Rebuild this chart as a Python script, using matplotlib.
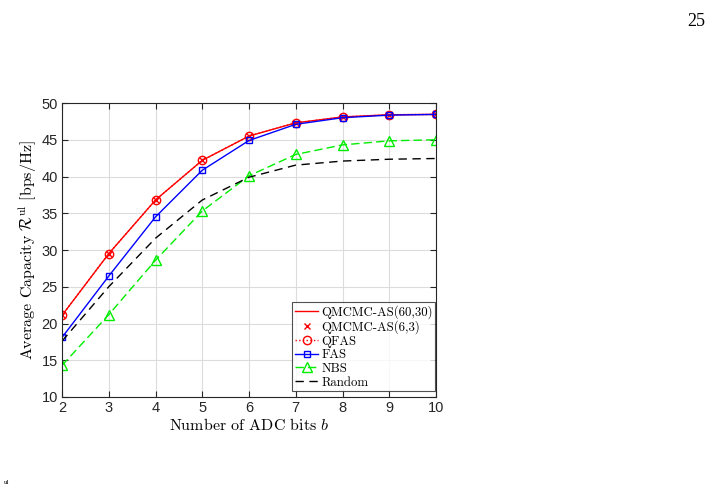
import numpy as np
import matplotlib.pyplot as plt

plt.rcParams['mathtext.fontset'] = 'cm'

bits = [2, 3, 4, 5, 6, 7, 8, 9, 10]
qmcmc = [21.1, 29.5, 36.8, 42.2, 45.5, 47.3, 48.1, 48.4, 48.45]
qmcmc_small = [21.1, 29.5, 36.8, 42.2, 45.5, 47.3, 48.1, 48.4, 48.45]
qfas = [21.1, 29.5, 36.8, 42.2, 45.5, 47.3, 48.1, 48.4, 48.45]
fas = [18.1, 26.45, 34.5, 40.85, 44.9, 47.1, 48.0, 48.35, 48.45]
nbs = [14.3, 21.2, 28.6, 35.3, 40.1, 43.0, 44.3, 44.85, 45.0]
rnd = [17.6, 25.0, 31.6, 36.8, 39.9, 41.55, 42.1, 42.35, 42.45]

fig = plt.figure(figsize=(7.15, 4.87), dpi=100)
ax = fig.add_axes([62/715, 90/487, 374/715, 294/487])

ax.plot(bits, qmcmc, '-', color='red', lw=1.0, label='QMCMC-AS(60,30)')
ax.plot(bits, qmcmc_small, 'x', color='red', ms=5, mew=1.0, ls='none', label='QMCMC-AS(6,3)')
ax.plot(bits, qfas, ':', color='red', marker='o', ms=6, mfc='none', mew=1.0, lw=1.0, label='QFAS')
ax.plot(bits, fas, '-', color='blue', marker='s', ms=5, mfc='none', mew=1.0, lw=1.0, label='FAS')
ax.plot(bits, nbs, '--', color='#00ee00', marker='^', ms=7, mfc='none', mew=1.0, lw=1.0,
        dashes=(6, 3), label='NBS')
ax.plot(bits, rnd, '--', color='black', lw=1.0, dashes=(6, 4), label='Random')

ax.set_xlim(2, 10)
ax.set_ylim(10, 50)
ax.set_xticks(bits)
ax.set_yticks(np.arange(10, 51, 5))
ax.grid(True, color='#dcdcdc', lw=0.8)
ax.set_axisbelow(True)
ax.tick_params(direction='in', top=True, right=True, length=4, labelsize=10.5, pad=3,
               colors='#262626')
for lab in ax.get_xticklabels() + ax.get_yticklabels():
    lab.set_fontfamily('Liberation Sans')
for s in ax.spines.values():
    s.set_color('#262626')
    s.set_linewidth(0.8)

ax.set_xlabel(r'Number of ADC bits $b$', fontsize=11.5, fontfamily='cmr10', labelpad=1)
ax.set_ylabel(r'Average Capacity $\mathcal{R}^{\mathrm{ul}}$ [bps/Hz]',
              fontsize=11.5, fontfamily='cmr10', labelpad=2)

leg = ax.legend(loc='lower right', bbox_to_anchor=(0.998, 0.02), frameon=True, fancybox=False,
                edgecolor='#262626', handlelength=1.8, handletextpad=0.25,
                borderpad=0.2, labelspacing=0.12, borderaxespad=0.0,
                prop={'family': 'cmr10', 'size': 9.2})
leg.get_frame().set_linewidth(0.8)

fig.text(0.986, 0.955, '25', fontsize=13, fontfamily='Liberation Serif', ha='right', va='center')
fig.text(0.005, 0.005, 'ul', fontsize=5, fontfamily='Liberation Serif', ha='left', va='bottom')

fig.savefig('out.png', dpi=100)
